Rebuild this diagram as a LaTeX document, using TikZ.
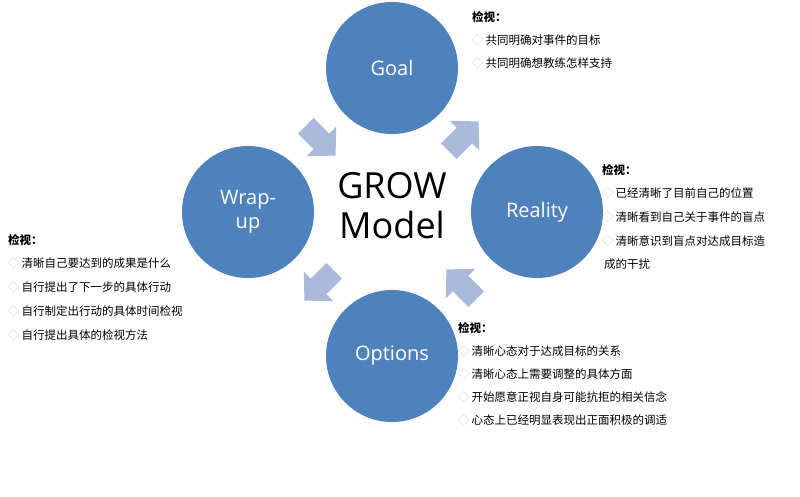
\documentclass[tikz,border=0pt]{standalone}
\usepackage{fontspec}
\setmainfont{Open Sans}
\newfontfamily\cjk{Noto Sans CJK SC}
\begin{document}
\begin{tikzpicture}[x=1pt,y=-1pt,
  stage/.style={circle,minimum size=132pt,inner sep=0pt,fill=circ,text=white,font=\fontsize{20}{24}\selectfont,align=center},
  head/.style={anchor=west,font=\cjk\bfseries\fontsize{11.5}{13}\selectfont,inner sep=0pt},
  item/.style={anchor=west,font=\cjk\fontsize{11.5}{13}\selectfont,inner sep=0pt}]
\definecolor{circ}{RGB}{79,129,189}
\definecolor{arr}{RGB}{170,186,218}
\definecolor{bul}{RGB}{200,205,215}
\useasboundingbox (0,0) rectangle (800,496);
\node[stage] (goal) at (392,68) {Goal};
\node[stage] (reality) at (537,212) {Reality};
\node[stage] (options) at (392,356) {Options};
\node[stage] (wrap) at (248,212) {Wrap-\\up};
\node[font=\fontsize{36}{40}\selectfont,align=center] (grow) at (392,206) {GROW\\Model};
\foreach \p/\a in {{(463,137)}/45,{(462,285)}/135,{(320,285)}/225,{(320,140)}/-45}{
  \fill[arr,shift={\p},rotate=\a] (-20,-11) -- (2,-11) -- (2,-21) -- (22,0) -- (2,21) -- (2,11) -- (-20,11) -- cycle;
}
\newcommand{\bl}{{\color{bul}\cjk ◇}\,}
% Goal
\node[head] (gh) at (472,17) {检视：};
\node[item] (g1) at (472,40) {\bl 共同明确对事件的目标};
\node[item] (g2) at (472,63) {\bl 共同明确想教练怎样支持};
% Reality
\node[head] (rh) at (602,170) {检视：};
\node[item] (r1) at (602,193) {\bl 已经清晰了目前自己的位置};
\node[item] (r2) at (602,217) {\bl 清晰看到自己关于事件的盲点};
\node[item] (r3) at (602,241) {\bl 清晰意识到盲点对达成目标造};
\node[item] (r4) at (604,264) {成的干扰};
% Wrap
\node[head] (wh) at (8,240) {检视：};
\node[item] (w1) at (8,263) {\bl 清晰自己要达到的成果是什么};
\node[item] (w2) at (8,287) {\bl 自行提出了下一步的具体行动};
\node[item] (w3) at (8,311) {\bl 自行制定出行动的具体时间检视};
\node[item] (w4) at (8,335) {\bl 自行提出具体的检视方法};
% Options
\node[head] (oh) at (458,328) {检视：};
\node[item] (o1) at (458,351) {\bl 清晰心态对于达成目标的关系};
\node[item] (o2) at (458,374) {\bl 清晰心态上需要调整的具体方面};
\node[item] (o3) at (458,397) {\bl 开始愿意正视自身可能抗拒的相关信念};
\node[item] (o4) at (458,420) {\bl 心态上已经明显表现出正面积极的调适};
\end{tikzpicture}
\end{document}
